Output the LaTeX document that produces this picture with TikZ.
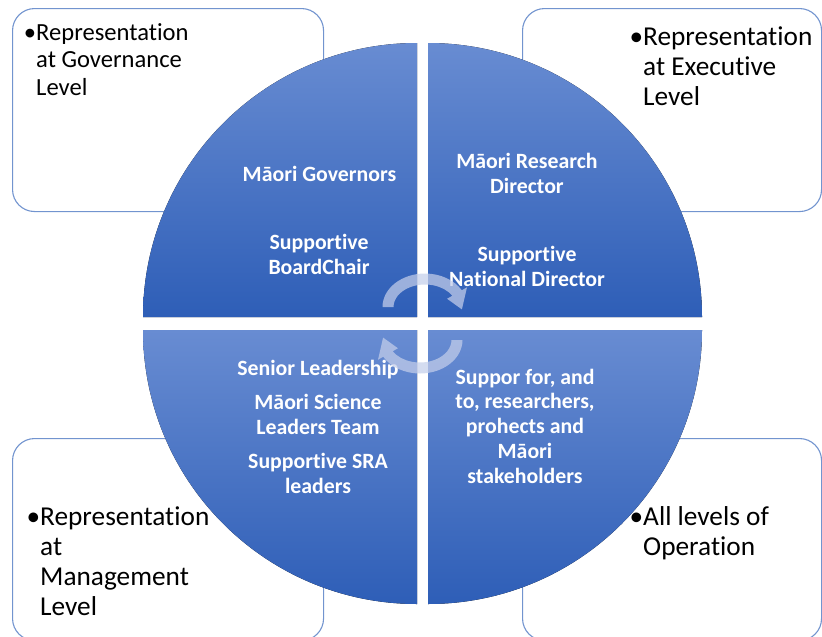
\documentclass[tikz,border=0pt]{standalone}
\usepackage{fontspec}
\setmainfont[Ligatures=NoCommon]{Carlito}
\definecolor{qtop}{RGB}{104,140,210}
\definecolor{qbot}{RGB}{46,94,183}
\definecolor{boxline}{RGB}{114,148,207}
\definecolor{arrowcol}{RGB}{196,206,234}
\begin{document}
\begin{tikzpicture}[x=1pt,y=-1pt,
  lvlbox/.style={draw=boxline, line width=1.1pt, fill=white, rounded corners=22pt, anchor=north west, inner sep=0pt},
  quad/.style={top color=qtop, bottom color=qbot, draw=none},
  qtext/.style={text=white, font=\fontsize{21.8}{24.75}\selectfont\bfseries, align=center, anchor=base, inner sep=0pt},
  btexta/.style={text=black, font=\fontsize{24.6}{27.5}\selectfont, align=left, anchor=base west, inner sep=0pt},
  btextb/.style={text=black, font=\fontsize{27.3}{30}\selectfont, align=left, anchor=base west, inner sep=0pt},
  cyc/.style={fill=arrowcol, fill opacity=0.72, draw=none}]
\path[use as bounding box] (0,0) rectangle (822,637);
\clip (0,0) rectangle (822,637);
% level boxes
\node[lvlbox, minimum width=311pt, minimum height=203pt] (gbox) at (12,8) {};
\node[lvlbox, minimum width=299pt, minimum height=203pt] (ebox) at (522,8) {};
\node[lvlbox, minimum width=311pt, minimum height=202pt] (mbox) at (12,438) {};
\node[lvlbox, minimum width=299pt, minimum height=202pt] (obox) at (522,438) {};
% quadrants
\fill[quad] (417,317) -- (143,317) arc[start angle=180,end angle=270,radius=274] -- cycle;
\fill[quad] (428,317) -- (428,43) arc[start angle=270,end angle=360,radius=274] -- cycle;
\fill[quad] (428,330) -- (702,330) arc[start angle=0,end angle=90,radius=274] -- cycle;
\fill[quad] (417,330) -- (417,604) arc[start angle=90,end angle=180,radius=274] -- cycle;
% level texts (base anchor = last line baseline)
\node[btexta] (gtext) at (36,95) {\llap{•}Representation\\at Governance\\Level};
\node[btextb] (etext) at (643,105) {\llap{•}Representation\\at Executive\\Level};
\node[btextb] (mtext) at (40,615) {\llap{•}Representation\\at\\Management\\Level};
\node[btextb] (otext) at (643,555) {\llap{•}All levels of\\Operation};
% quadrant texts
\node[qtext] (tl1) at (319.5,181) {Māori Governors};
\node[qtext] (tl2) at (319,274) {Supportive\\BoardChair};
\node[qtext] (tr1) at (527,193) {Māori Research\\Director};
\node[qtext] (tr2) at (527,286) {Supportive\\National Director};
\node[qtext] (bl1) at (318,375) {Senior Leadership};
\node[qtext] (bl2) at (318,434) {Māori Science\\Leaders Team};
\node[qtext] (bl3) at (318,493) {Supportive SRA\\leaders};
\node[qtext] (br1) at (525,483) {Suppor for, and\\to, researchers,\\prohects and\\Māori\\stakeholders};
% cycle arrows
\fill[cyc] (382.5,307) arc[start angle=180,end angle=330,x radius=42.5,y radius=33.5] -- (467,287.25) -- (461.9,309.4) -- (447.1,298.75) -- (452.3,295.75) arc[start angle=330,end angle=180,x radius=31.5,y radius=22.5] -- cycle;
\fill[cyc] (462.5,340) arc[start angle=0,end angle=150,x radius=42.5,y radius=33.5] -- (378,359.75) -- (383.1,337.6) -- (397.9,348.25) -- (392.7,351.25) arc[start angle=150,end angle=0,x radius=31.5,y radius=22.5] -- cycle;
\end{tikzpicture}
\end{document}
